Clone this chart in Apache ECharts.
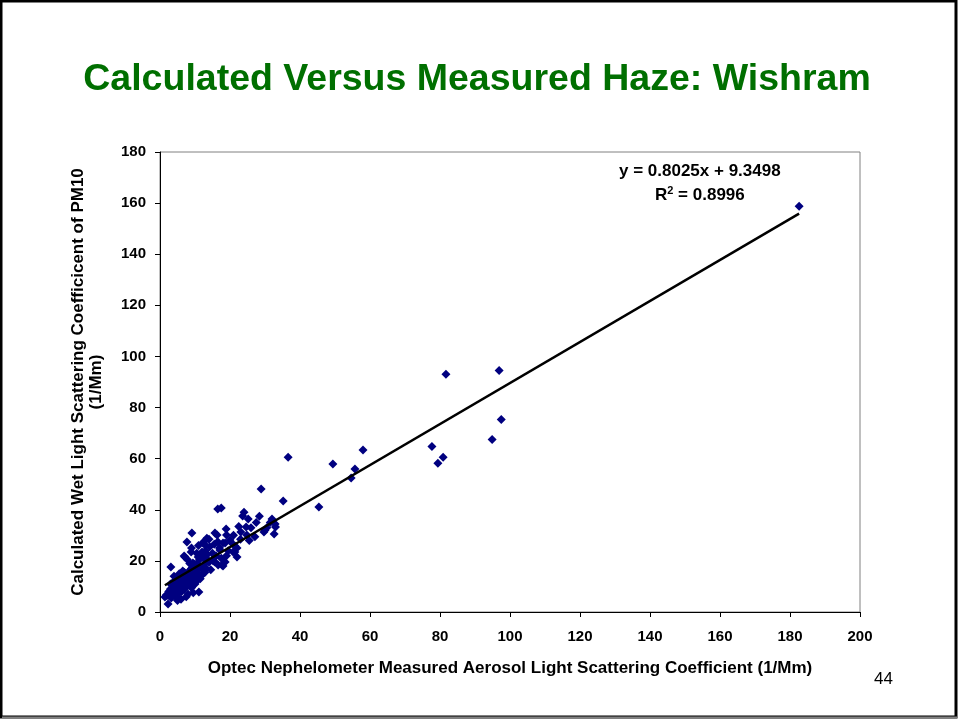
<!DOCTYPE html>
<html>
<head>
<meta charset="utf-8">
<script src="https://cdn.jsdelivr.net/npm/echarts@6/dist/echarts.min.js"></script>
<style>
html,body{margin:0;padding:0;background:#fff;}
#main{width:959px;height:719px;}
</style>
</head>
<body>
<div id="main"></div>
<script>
// measured vs calculated scattering
var points = [
  [182.6,158.8],[96.9,94.5],[81.7,93],[97.5,75.3],[94.9,67.5],[77.7,64.8],[80.9,60.6],[79.4,58.2],
  [36.6,60.6],[49.4,57.9],[55.7,56],[54.6,52.4],[58,63.4],[28.9,48.1],[35.2,43.4],[45.4,41.1],
  [28.4,37.5],[24,39],[23.6,37.6],[25.2,36.4],[32,36.4],[32.9,34.4],[33,33.3],[24.6,33.3],
  [16.5,40.3],[17.5,40.7],[32.6,30.5],[29.7,31.3],[27.1,29.4],[24.8,30.1],[23.1,31.3],[9.1,30.9],
  [18.9,32.5],[16.3,30.1],[13.4,28.9],[7.7,27.4],[20,28.2],[21.4,25.8],[18.6,27],[12.9,26.2],
  [8.9,23.5],[12,23.5],[10.9,21.5],[7.1,21.5],[21.4,23.5],[15.7,19.6],[18,18],[16.6,18.4],
  [3.1,17.6],[9.4,19.2],[13.7,20.3],[12.3,16.4],[11.1,7.8],[2.3,3.1],[1.4,5.9],[2.9,7.8],
  [6.9,21.9],[9.7,18.8],[11.5,17.6],[1.8,6.7],[19,30.1],[15.7,30.9],[12.3,27],[18,27],
  [17.1,24.3],[15.7,21.5],[18.6,19.6],[22,21.5],[17.7,18.4],[13.3,19.6],[30,32],[20.9,23.5],
  [2,6.5],[2.5,8],[3,9],[3.2,5.5],[3.5,7],[3.8,10],[4,12],[4.2,8.5],[4.5,6],[4.8,11],
  [5,9.5],[5.2,13],[5.5,7.5],[5.8,10.5],[6,12.5],[6.2,8],[6.5,14],[6.8,11],[7,9],[7,15.5],
  [7.2,13],[7.5,10],[7.8,12],[8,14.5],[8,7],[8.3,16],[8.5,11],[8.7,13.5],[9,17],[9,9.5],
  [9.2,12],[9.5,15],[9.7,18],[10,11],[10,13.5],[10.2,16.5],[10.5,19],[10.8,12.5],[11,15],[11,17.5],
  [11.3,20.5],[11.5,13],[11.8,22],[12,14.5],[12.2,18],[12.5,21],[12.8,15.5],[13,24],[13.2,17],[13.5,22.5],
  [14,19.5],[14.2,25.5],[14.5,16.5],[15,23],[15.2,20],[15.5,26.5],[16,22],[16.5,27.5],[17,25],[17.5,21],
  [6,5],[5,4.5],[7.5,6],[9.5,7.5],[4,14],[3,11],[6.5,16],[5.5,15],[8.5,19],[7.8,20.5],
  [10.5,23],[9,25],[11,26],[12.5,27.5],[14,28.5],[19.5,24],[20.5,27],[22,25],[19,22],[23,28.5],
  [26,33],[27.5,35],[22.5,33.5],[21,30],[25.5,28],[30.5,33],[31.5,35]
];
var slope = 0.8025, intercept = 9.3498, r2 = '0.8996';
var xTicks = {min: 0, max: 200, interval: 20};
var yTicks = {min: 0, max: 180, interval: 20};

var xs = points.map(function (p) { return p[0]; });
var x0 = Math.min.apply(null, xs), x1 = Math.max.apply(null, xs);
var trend = [[x0, slope * x0 + intercept], [x1, slope * x1 + intercept]];

var chart = echarts.init(document.getElementById('main'));
var font = 'Arial, "Liberation Sans", sans-serif';
chart.setOption({
  backgroundColor: '#fff',
  animation: false,
  title: {
    text: 'Calculated Versus Measured Haze: Wishram',
    left: 472, top: 56, textAlign: 'center',
    textStyle: {color: '#006f00', fontSize: 37.5, fontWeight: 'bold', fontFamily: font}
  },
  grid: {left: 160, right: 99, top: 152, bottom: 107, show: true, borderColor: '#808080', borderWidth: 1},
  xAxis: {
    type: 'value', min: xTicks.min, max: xTicks.max, interval: xTicks.interval,
    name: 'Optec Nephelometer Measured Aerosol Light Scattering Coefficient (1/Mm)',
    nameLocation: 'middle', nameGap: 48,
    nameTextStyle: {color: '#000', fontSize: 17, fontWeight: 'bold', fontFamily: font},
    axisLine: {lineStyle: {color: '#000', width: 1}},
    axisTick: {inside: false, length: 5, lineStyle: {color: '#000'}},
    axisLabel: {color: '#000', fontSize: 15, fontWeight: 'bold', fontFamily: font, margin: 17},
    splitLine: {show: false}
  },
  yAxis: {
    type: 'value', min: yTicks.min, max: yTicks.max, interval: yTicks.interval,
    name: 'Calculated Wet Light Scattering Coefficicent of PM10\n(1/Mm)',
    nameLocation: 'middle', nameGap: 55,
    nameTextStyle: {color: '#000', fontSize: 17, fontWeight: 'bold', fontFamily: font, lineHeight: 18},
    axisLine: {lineStyle: {color: '#000', width: 1}},
    axisTick: {inside: false, length: 5, lineStyle: {color: '#000'}},
    axisLabel: {color: '#000', fontSize: 15, fontWeight: 'bold', fontFamily: font, margin: 14},
    splitLine: {show: false}
  },
  series: [
    {
      type: 'scatter', data: points, symbol: 'diamond', symbolSize: 9,
      itemStyle: {color: '#000080', opacity: 1}
    },
    {
      type: 'line', data: trend, symbol: 'none',
      lineStyle: {color: '#000', width: 2.5}
    }
  ],
  graphic: [
    {type: 'rect', shape: {x: 1, y: 1, width: 955, height: 716},
      style: {fill: 'none', stroke: '#000', lineWidth: 3}},
    {type: 'line', shape: {x1: 2, y1: 717.5, x2: 957, y2: 717.5},
      style: {stroke: '#808080', lineWidth: 2}},
    {type: 'text', left: 619, top: 163,
      style: {text: 'y = 0.8025x + 9.3498', fill: '#000', font: 'bold 17px ' + font}},
    {type: 'text', left: 655, top: 185,
      style: {text: '{a|R}{s|2}{a| = ' + r2 + '}', fill: '#000',
        rich: {a: {font: 'bold 17px ' + font, verticalAlign: 'bottom'},
               s: {font: 'bold 11px ' + font, verticalAlign: 'top', padding: [0, 0, 8, 0]}}}},
    {type: 'text', left: 874, top: 671,
      style: {text: '44', fill: '#000', font: '17px ' + font}}
  ]
});
</script>
</body>
</html>
